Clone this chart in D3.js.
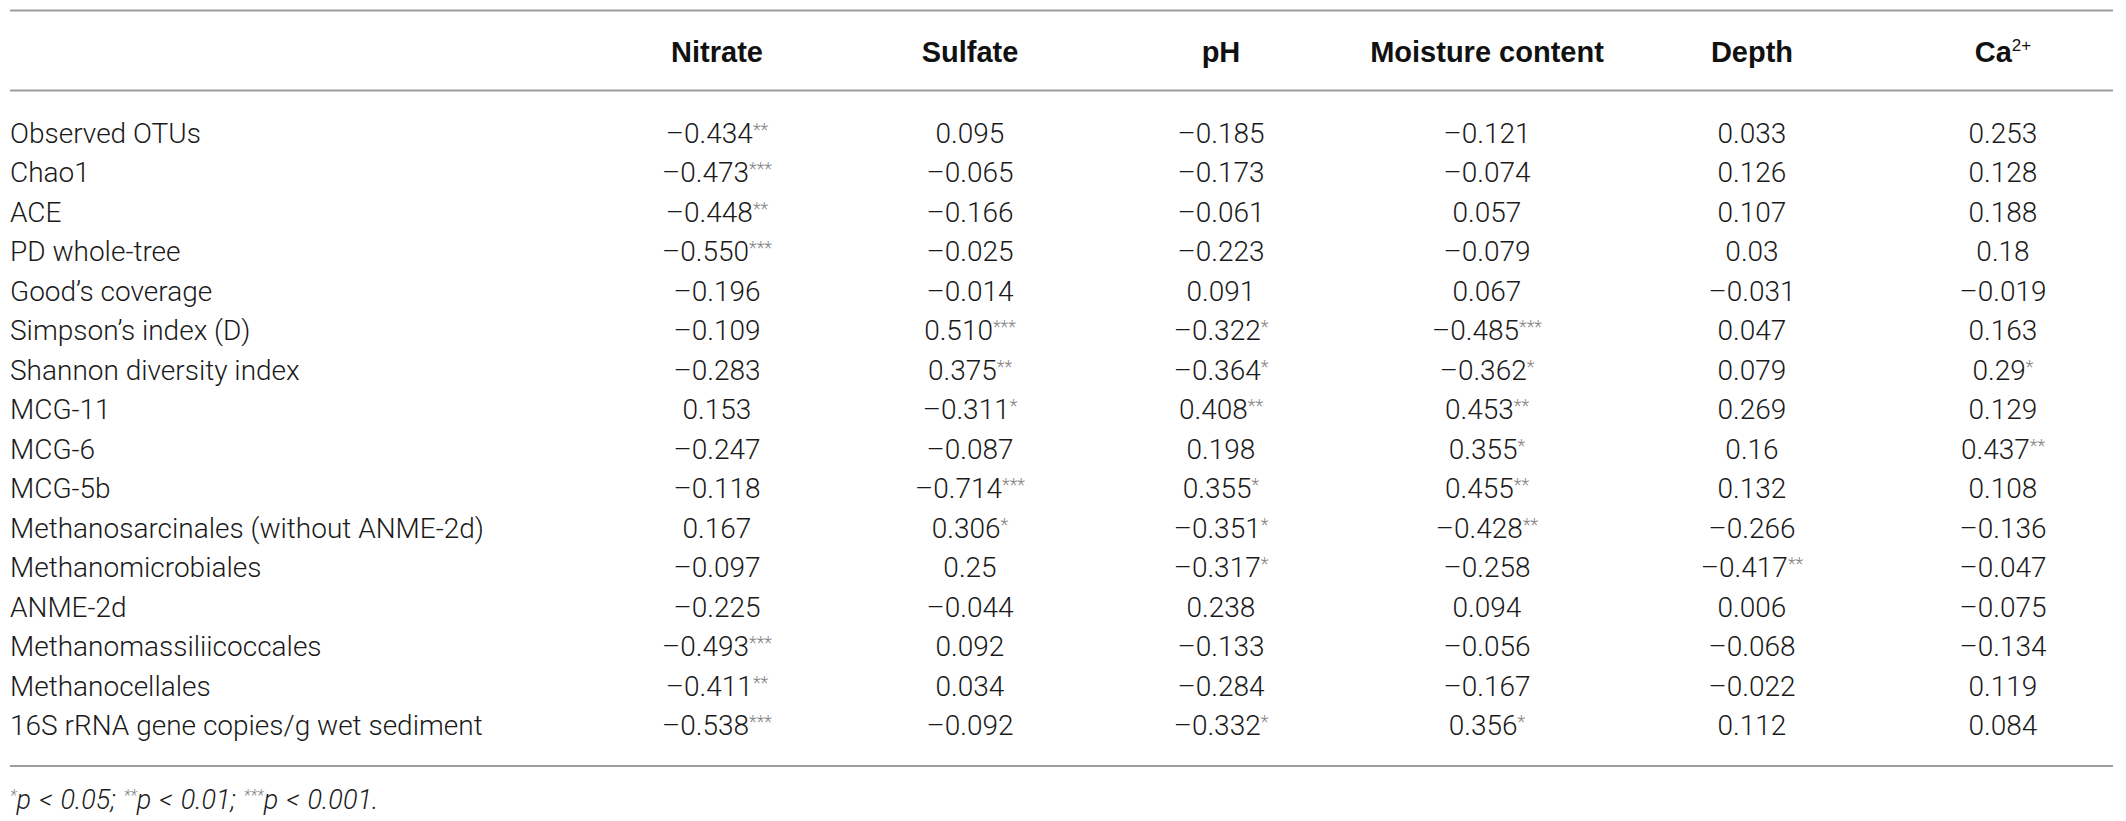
<!DOCTYPE html>
<html>
<head>
<meta charset="utf-8">
<script src="https://cdn.jsdelivr.net/npm/d3@7/dist/d3.min.js"></script>
<style>
    body { margin: 0; background: #fff; }
    #table { width: 2126px; height: 821px; }
    text { font-family: Roboto, "Liberation Sans", Arial, sans-serif; }
    text.head { font-family: "Liberation Sans", Arial, sans-serif; }
</style>
</head>
<body>
<div id="table"></div>
<script>
// table rows (first column)
const rowLabels = [
    'Observed OTUs', 'Chao1', 'ACE', 'PD whole-tree', 'Good\u2019s coverage',
    'Simpson\u2019s index (D)', 'Shannon diversity index', 'MCG-11', 'MCG-6', 'MCG-5b',
    'Methanosarcinales (without ANME-2d)', 'Methanomicrobiales', 'ANME-2d',
    'Methanomassiliicoccales', 'Methanocellales', '16S rRNA gene copies/g wet sediment'
];

// column headers, the superscript part kept apart
const columns = ['Nitrate', 'Sulfate', 'pH', 'Moisture content', 'Depth', 'Ca'];
const columnSup = ['', '', '', '', '', '2+'];

// correlation values per column, stars = significance
const nitrate = ['–0.434**', '–0.473***', '–0.448**', '–0.550***', '–0.196', '–0.109', '–0.283', '0.153',
    '–0.247', '–0.118', '0.167', '–0.097', '–0.225', '–0.493***', '–0.411**', '–0.538***'];
const sulfate = ['0.095', '–0.065', '–0.166', '–0.025', '–0.014', '0.510***', '0.375**', '–0.311*',
    '–0.087', '–0.714***', '0.306*', '0.25', '–0.044', '0.092', '0.034', '–0.092'];
const pH = ['–0.185', '–0.173', '–0.061', '–0.223', '0.091', '–0.322*', '–0.364*', '0.408**',
    '0.198', '0.355*', '–0.351*', '–0.317*', '0.238', '–0.133', '–0.284', '–0.332*'];
const moisture = ['–0.121', '–0.074', '0.057', '–0.079', '0.067', '–0.485***', '–0.362*', '0.453**',
    '0.355*', '0.455**', '–0.428**', '–0.258', '0.094', '–0.056', '–0.167', '0.356*'];
const depth = ['0.033', '0.126', '0.107', '0.03', '–0.031', '0.047', '0.079', '0.269',
    '0.16', '0.132', '–0.266', '–0.417**', '0.006', '–0.068', '–0.022', '0.112'];
const calcium = ['0.253', '0.128', '0.188', '0.18', '–0.019', '0.163', '0.29*', '0.129',
    '0.437**', '0.108', '–0.136', '–0.047', '–0.075', '–0.134', '0.119', '0.084'];

// footnote pieces: [stars, text]
const footnote = [['*', 'p < 0.05; '], ['**', 'p < 0.01; '], ['***', 'p < 0.001.']];

function CorrTable(_) {

    let _margin = {t: 10, r: 13, b: 55, l: 10};
    let _colCenters = [717, 970, 1221, 1487, 1752, 2003];
    let _fontSize = 28;

    function exports(data) {

        const root = _;
        const W = root.clientWidth;
        const H = root.clientHeight;
        const m = _margin;

        const svg = d3.select(root)
            .append('svg')
            .attr('width', W)
            .attr('height', H);

        // scales: rows on a point scale, columns on an ordinal one
        const scaleY = d3.scalePoint()
            .domain(data.rows)
            .range([133, 725]);
        const scaleX = d3.scaleOrdinal()
            .domain(data.columns)
            .range(_colCenters);

        // horizontal rules
        const rules = [m.t + 0.5, 90.5, H - m.b];
        svg.selectAll('.rule')
            .data(rules)
            .enter()
            .append('line')
            .attr('class', 'rule')
            .attr('x1', m.l)
            .attr('x2', W - m.r)
            .attr('y1', d => d)
            .attr('y2', d => d)
            .attr('stroke', '#9d9d9d')
            .attr('stroke-width', 2);

        // header
        const head = svg.selectAll('.head')
            .data(data.columns)
            .enter()
            .append('text')
            .attr('class', 'head')
            .attr('x', d => scaleX(d))
            .attr('y', 62)
            .attr('text-anchor', 'middle')
            .attr('font-weight', 700)
            .attr('font-size', 29)
            .attr('fill', '#111')
            .text(d => d);
        head.append('tspan')
            .attr('font-size', 17)
            .attr('font-weight', 400)
            .attr('dy', -11)
            .text((d, i) => data.sup[i]);

        // row labels
        svg.selectAll('.label')
            .data(data.rows)
            .enter()
            .append('text')
            .attr('class', 'label')
            .attr('x', m.l)
            .attr('y', d => scaleY(d) + 10)
            .attr('font-size', _fontSize)
            .attr('font-weight', 300)
            .attr('fill', '#1a1a1a')
            .text(d => d);

        // cells
        const cells = [];
        data.columns.forEach((c, j) => {
            data.values[j].forEach((v, i) => {
                const parts = v.match(/^([^*]*)(\**)$/);
                cells.push({row: data.rows[i], col: c, num: parts[1], stars: parts[2]});
            });
        });

        const cell = svg.selectAll('.cell')
            .data(cells)
            .enter()
            .append('text')
            .attr('class', 'cell')
            .attr('x', d => scaleX(d.col))
            .attr('y', d => scaleY(d.row) + 10)
            .attr('text-anchor', 'middle')
            .attr('font-size', _fontSize)
            .attr('font-weight', 300)
            .attr('fill', '#1a1a1a')
            .text(d => d.num);
        cell.filter(d => d.stars)
            .append('tspan')
            .attr('font-size', 18)
            .attr('fill', '#858585')
            .attr('dy', -7)
            .text(d => d.stars);

        // footnote
        const note = svg.append('text')
            .attr('x', m.l)
            .attr('y', 809)
            .attr('font-size', 27)
            .attr('font-style', 'italic')
            .attr('font-weight', 300)
            .attr('word-spacing', 1.5)
            .attr('fill', '#1a1a1a')
            .attr('xml:space', 'preserve');
        data.footnote.forEach(f => {
            note.append('tspan')
                .attr('font-size', 16)
                .attr('fill', '#858585')
                .attr('dy', -8)
                .text(f[0]);
            note.append('tspan')
                .attr('dy', 8)
                .text(f[1]);
        });
    }

    exports.margin = function(_) {
        if (_ === undefined) return _margin;
        _margin = _;
        return this;
    };

    exports.colCenters = function(_) {
        if (_ === undefined) return _colCenters;
        _colCenters = _;
        return this;
    };

    return exports;
}

const table = CorrTable(document.getElementById('table'));
table({
    rows: rowLabels,
    columns: columns,
    sup: columnSup,
    values: [nitrate, sulfate, pH, moisture, depth, calcium],
    footnote: footnote
});
</script>
</body>
</html>
